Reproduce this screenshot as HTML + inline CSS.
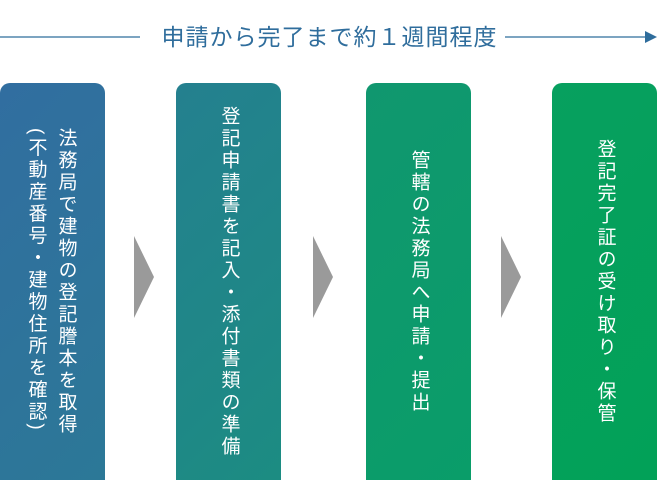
<!DOCTYPE html>
<html><head><meta charset="utf-8"><style>
body{margin:0;width:657px;height:480px;background:#fff;position:relative;overflow:hidden;font-family:"Liberation Sans","Noto Sans CJK JP",sans-serif}
.t{position:absolute;left:0;right:0;top:21px;text-align:center;font-size:23px;color:#2f6d9c;line-height:32px;letter-spacing:1px;padding-left:2px}
.box{position:absolute;top:83px;width:105px;height:397px;border-radius:10px 10px 0 0;display:flex;justify-content:center;align-items:center;color:#fff}
.v{writing-mode:vertical-rl;font-size:19px;letter-spacing:3px;line-height:30px}
.ar{position:absolute;top:236px;width:0;height:0;border-top:41px solid transparent;border-bottom:41px solid transparent;border-left:20px solid #9a9a9a}
</style></head><body>
<svg width="657" height="60" style="position:absolute;left:0;top:0">
<line x1="0" y1="37" x2="140" y2="37" stroke="#2f6d9c" stroke-width="1.3"/>
<line x1="505" y1="37" x2="650" y2="37" stroke="#2f6d9c" stroke-width="1.3"/>
<polygon points="645,31 657,37 645,43" fill="#2f6d9c"/>
</svg>
<div class="t">申請から完了まで約１週間程度</div>
<div class="box" style="left:0;background:linear-gradient(135deg,#316ea0,#2c7897)"><div class="v" style="margin-left:-4px">法務局で建物の登記謄本を取得<br>(不動産番号・建物住所を確認)</div></div>
<div class="ar" style="left:134px"></div>
<div class="box" style="left:176px;background:linear-gradient(135deg,#24808f,#1c8c82)"><div class="v">登記申請書を記入・添付書類の準備</div></div>
<div class="ar" style="left:313px"></div>
<div class="box" style="left:366px;background:linear-gradient(135deg,#10976f,#0a9d69)"><div class="v">管轄の法務局へ申請・提出</div></div>
<div class="ar" style="left:501px"></div>
<div class="box" style="left:552px;background:linear-gradient(135deg,#07a05f,#02a158)"><div class="v">登記完了証の受け取り・保管</div></div>
</body></html>
